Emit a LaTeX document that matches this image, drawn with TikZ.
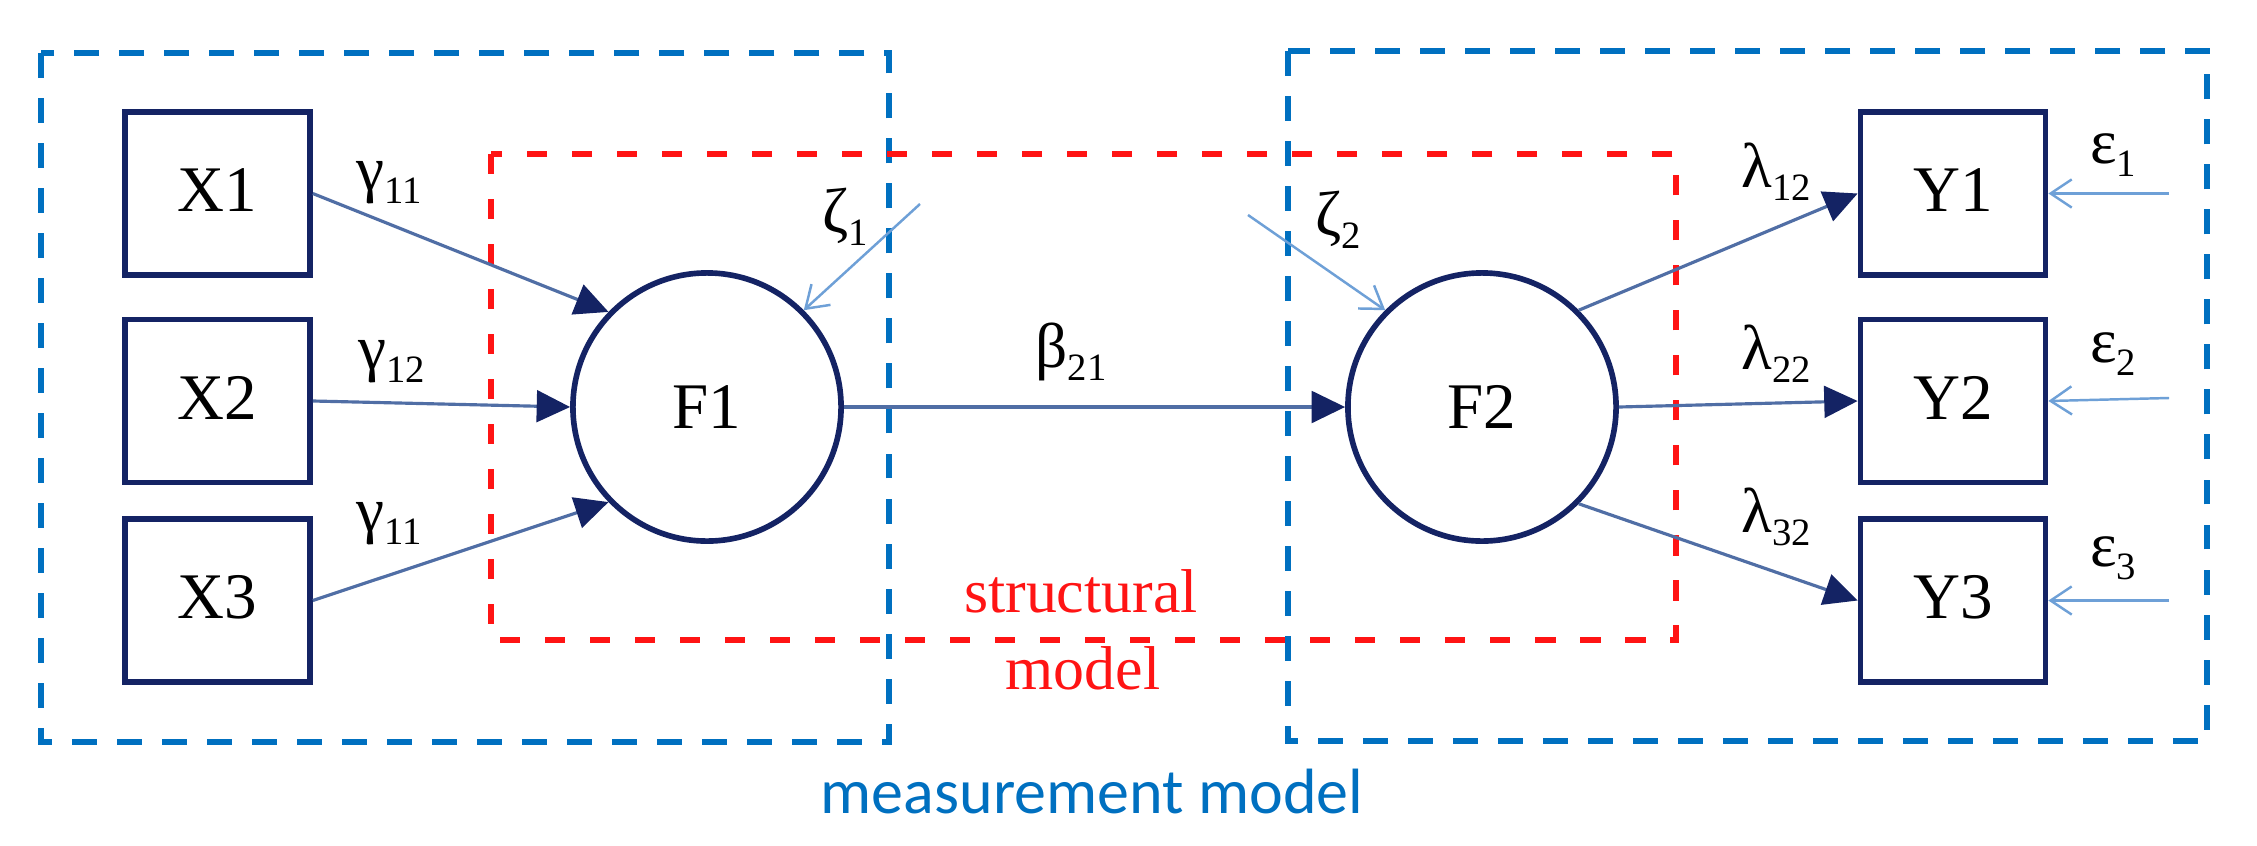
\documentclass[tikz,border=0pt]{standalone}
\usepackage{fontspec}
\setmainfont{Liberation Serif}
\newfontfamily\calibrifont{Carlito}
\usetikzlibrary{arrows.meta}
\definecolor{navy}{RGB}{20,35,100}
\definecolor{pathblue}{RGB}{80,110,165}
\definecolor{errblue}{RGB}{110,160,215}
\definecolor{measblue}{RGB}{0,112,192}
\definecolor{structred}{RGB}{255,20,20}
\newcommand{\labsub}[2]{#1{\fontsize{11}{12}\selectfont\raisebox{-3.7pt}{#2}}}
\tikzset{
  obsbox/.style={draw=navy, line width=1.6pt, minimum width=1.85cm, minimum height=1.63cm, inner sep=0pt, text depth=0.2em, font=\fontsize{18.5}{22}\selectfont},
  latcirc/.style={circle, draw=navy, line width=1.6pt, minimum size=2.68cm, inner sep=0pt, font=\fontsize{18.5}{22}\selectfont},
  plab/.style={inner sep=0pt, font=\fontsize{18}{21}\selectfont},
  patharrow/.style={draw=pathblue, line width=0.9pt, -{Triangle[length=9.5pt,width=9pt,color=navy]}},
  errarrow/.style={draw=errblue, line width=0.7pt, -{Straight Barb[length=6pt,width=8pt]}},
  measbox/.style={draw=measblue, line width=1.9pt, dash pattern=on 7.1pt off 5.7pt},
  structbox/.style={draw=structred, line width=1.5pt, dash pattern=on 5.7pt off 7.1pt},
}
\begin{document}
\begin{tikzpicture}[x=0.01cm,y=-0.01cm]
\useasboundingbox[fill=white] (0,0) rectangle (2257,845);

% dashed frames
\draw[measbox] (41,53) rectangle (889,742);
\draw[measbox] (1288,51) rectangle (2207,741);
\draw[structbox] (491,154) rectangle (1676,640);

% observed variables
\node[obsbox] (X1) at (217.5,193.5) {X1};
\node[obsbox] (X2) at (217.5,401) {X2};
\node[obsbox] (X3) at (217.5,600.5) {X3};
\node[obsbox] (Y1) at (1953,193.5) {Y1};
\node[obsbox] (Y2) at (1953,401) {Y2};
\node[obsbox] (Y3) at (1953,600.5) {Y3};

% latent variables
\node[latcirc] (F1) at (707,407) {F1};
\node[latcirc] (F2) at (1482,407) {F2};

% error sources
\coordinate (z1) at (920,204);
\coordinate (z2) at (1248,215);
\coordinate (e1) at (2169,193.5);
\coordinate (e2) at (2169,398);
\coordinate (e3) at (2169,600.5);

% paths
\draw[patharrow] (X1.east) -- (F1.136);
\draw[patharrow] (X2.east) -- (F1.west);
\draw[patharrow] (X3.east) -- (F1.224);
\draw[patharrow] (F1.east) -- (F2.west);
\draw[patharrow] (F2.45) -- (Y1.west);
\draw[patharrow] (F2.east) -- (Y2.west);
\draw[patharrow] (F2.-45) -- (Y3.west);
\draw[errarrow] (z1) -- (F1.45);
\draw[errarrow] (z2) -- (F2.135);
\draw[errarrow] (e1) -- (Y1.east);
\draw[errarrow] (e2) -- (Y2.east);
\draw[errarrow] (e3) -- (Y3.east);

% labels
\node[plab] (g1) at (389,183) {\labsub{γ}{11}};
\node[plab] (g2) at (392,362) {\labsub{γ}{12}};
\node[plab] (g3) at (389,524) {\labsub{γ}{11}};
\node[plab] (zl1) at (845,217) {\labsub{ζ}{1}};
\node[plab] (zl2) at (1338,220) {\labsub{ζ}{2}};
\node[plab] (b21) at (1071,352) {\labsub{β}{21}};
\node[plab] (l12) at (1776,172) {\labsub{λ}{12}};
\node[plab] (l22) at (1776,354) {\labsub{λ}{22}};
\node[plab] (l32) at (1776,517) {\labsub{λ}{32}};
\node[plab] (el1) at (2113,155) {\labsub{ε}{1}};
\node[plab] (el2) at (2113,354) {\labsub{ε}{2}};
\node[plab] (el3) at (2113,558) {\labsub{ε}{3}};

% model titles
\node[anchor=base, inner sep=0pt, text=structred, font=\fontsize{17.6}{21}\selectfont] (st1) at (1081,612) {structural};
\node[anchor=base, inner sep=0pt, text=structred, font=\fontsize{17.6}{21}\selectfont] (st2) at (1083,689) {model};
\node[anchor=base, inner sep=0pt, text=measblue, font=\calibrifont\fontsize{18.2}{22}\selectfont] (mm) at (1092,813) {measurement model};
\end{tikzpicture}
\end{document}
